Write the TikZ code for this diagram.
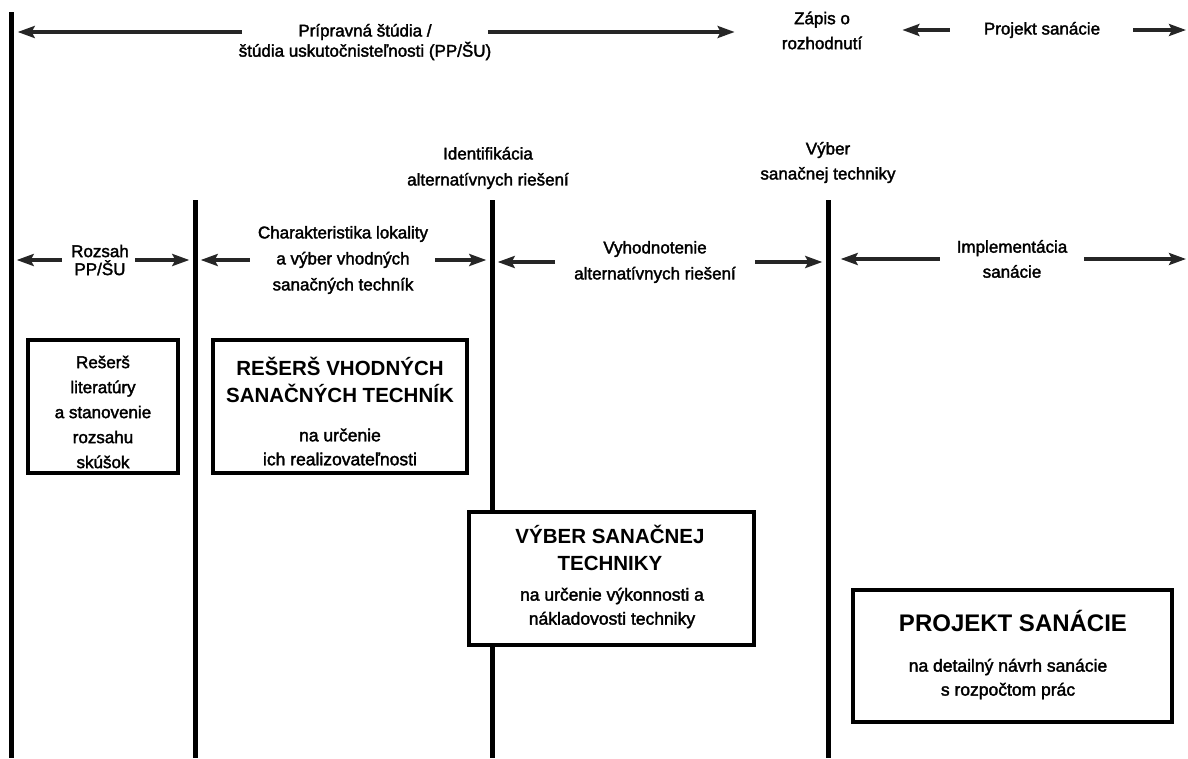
\documentclass[tikz,border=0pt]{standalone}
\usepackage{fontspec}
\setmainfont{Liberation Sans}
\newfontfamily\lblfont{Liberation Sans}[FakeBold=2]
\usetikzlibrary{
    arrows.meta,
    positioning
}
\tikzset{
    % Phase boundary bar
    bar/.style={
        rectangle,
        fill=black,
        inner sep=0pt,
        minimum width=5pt,
        minimum height=#1
    },
    % Phase label style
    phase label/.style={
        font=\lblfont\fontsize{17}{#1}\selectfont,
        align=center,
        inner sep=0pt
    },
    phase label/.default=26pt,
    % Task box style
    task/.style={
        rectangle,
        draw=black,
        fill=white,
        line width=4pt
    },
    box title/.style={
        font=\bfseries\fontsize{#1}{27}\selectfont,
        align=center,
        inner sep=0pt
    },
    box title/.default=20.5,
    box text/.style={
        font=\lblfont\fontsize{17.5}{24}\selectfont,
        align=center,
        inner sep=0pt
    },
    % Arrow style
    span/.style={
        -{Stealth[length=17pt, width=12pt, inset=3pt]},
        line width=3.2pt,
        color=black!85
    }
}

\begin{document}
\begin{tikzpicture}[x=1pt, y=-1pt]
    \useasboundingbox (0,0) rectangle (1188,758);

    % Phase boundaries
    \node[bar=746pt] (v1) at (11,385) {};
    \node[bar=558pt] (v2) at (195,479) {};
    \node[bar=558pt] (v3) at (492,479) {};
    \node[bar=558pt] (v4) at (828,479) {};
    \coordinate (edgeR) at (1186,0);

    % Task boxes
    \node[task, minimum width=150pt, minimum height=133pt] (box1) at (103,406.5) {};
    \node[task, minimum width=254pt, minimum height=133pt] (box2) at (340,406.5) {};
    \node[task, minimum width=285pt, minimum height=133pt] (box3) at (611.5,578.5) {};
    \node[task, minimum width=319pt, minimum height=132pt] (box4) at (1012.5,656) {};

    \node[phase label=25pt] (box1txt) at (103,412) {Rešerš\\literatúry\\a stanovenie\\rozsahu\\skúšok};
    \node[box title] (box2ttl) at (340,379.5) {REŠERŠ VHODNÝCH\\SANAČNÝCH TECHNÍK};
    \node[box text] (box2txt) at (340,447) {na určenie\\ich realizovateľnosti};
    \node[box title] (box3ttl) at (610,547.5) {VÝBER SANAČNEJ\\TECHNIKY};
    \node[box text] (box3txt) at (612,608) {na určenie výkonnosti a\\nákladovosti techniky};
    \node[box title=24] (box4ttl) at (1013,621) {PROJEKT SANÁCIE};
    \node[box text] (box4txt) at (1008,679) {na detailný návrh sanácie\\s rozpočtom prác};

    % Top row
    \node[phase label] (prip1) at (365,32) {Prípravná štúdia /};
    \node[phase label] (prip2) at (365,51) {štúdia uskutočnisteľnosti (PP/ŠU)};
    \node[phase label=25pt] (zapis) at (822,30.5) {Zápis o\\rozhodnutí};
    \node[phase label] (projekt) at (1042,30) {Projekt sanácie};

    \draw[span, shorten <=56pt, shorten >=4pt] (prip1.west) -- (prip1.west -| v1.east);
    \draw[span, shorten <=56pt, shorten >=47pt] (prip1.east) -- (prip1.east -| zapis.west);
    \draw[span, shorten <=34pt, shorten >=40pt] (projekt.west) -- (projekt.west -| zapis.east);
    \draw[span, shorten <=33pt] (projekt.east) -- (projekt.east -| edgeR);

    % Milestones
    \node[phase label] (ident) at (488,168) {Identifikácia\\alternatívnych riešení};
    \node[phase label=25pt] (vyber) at (828,162.5) {Výber\\sanačnej techniky};

    % Phase row
    \node[phase label=18pt] (rozsah) at (100,260) {Rozsah\\PP/ŠU};
    \node[phase label] (charakt) at (343,260) {Charakteristika lokality\\a výber vhodných\\sanačných techník};
    \node[phase label] (vyhod) at (655,262) {Vyhodnotenie\\alternatívnych riešení};
    \node[phase label=25pt] (impl) at (1012,259) {Implementácia\\sanácie};

    \draw[span, shorten <=9pt, shorten >=3pt] (rozsah.west) -- (rozsah.west -| v1.east);
    \draw[span, shorten <=6pt, shorten >=3pt] (rozsah.east) -- (rozsah.east -| v2.west);
    \draw[span, shorten <=8pt, shorten >=3pt] (charakt.west) -- (charakt.west -| v2.east);
    \draw[span, shorten <=7pt, shorten >=3pt] (charakt.east) -- (charakt.east -| v3.west);
    \draw[span, shorten <=19pt, shorten >=3pt] (vyhod.west) -- (vyhod.west -| v3.east);
    \draw[span, shorten <=19pt, shorten >=3pt] (vyhod.east) -- (vyhod.east -| v4.west);
    \draw[span, shorten <=17pt, shorten >=10pt] (impl.west) -- (impl.west -| v4.east);
    \draw[span, shorten <=17pt] (impl.east) -- (impl.east -| edgeR);
\end{tikzpicture}
\end{document}
